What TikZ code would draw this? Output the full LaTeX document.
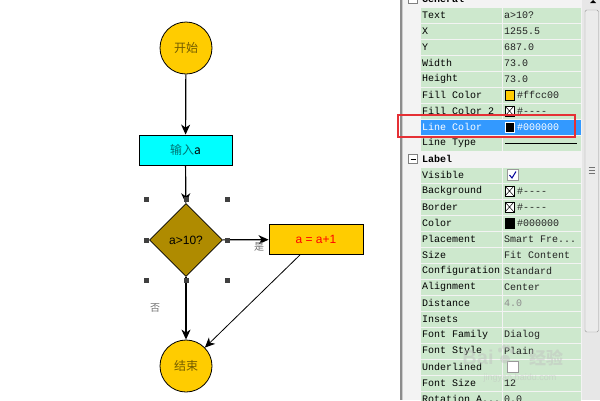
\documentclass[tikz,border=0pt]{standalone}
\usepackage{fontspec}
\setmainfont{Liberation Sans}
\setmonofont{Liberation Mono}
\newfontfamily\cjk{Noto Sans CJK SC}
\usetikzlibrary{shapes.geometric,arrows.meta}
\definecolor{gold}{HTML}{FFCC00}
\definecolor{dgold}{HTML}{AF8B00}
\definecolor{aqua}{HTML}{00FFFF}
\definecolor{cellg}{HTML}{CDE8CD}
\definecolor{selb}{HTML}{3399FF}
\definecolor{redbox}{HTML}{E53035}
\definecolor{panelbg}{HTML}{F3F3F3}
\definecolor{valtxt}{HTML}{222222}
\tikzset{
  term/.style={circle,draw=black,line width=0.8pt,fill=gold,minimum size=52pt,inner sep=0pt,
    font=\cjk\fontsize{12}{12}\selectfont,text=gold!45!black},
  procbox/.style={rectangle,draw=black,line width=0.8pt,minimum width=93pt,minimum height=30pt,inner sep=0pt,
    font=\fontsize{12}{12}\selectfont},
  decis/.style={diamond,aspect=1,draw=black,line width=0.8pt,fill=dgold,minimum width=73pt,minimum height=73pt,
    inner sep=0pt,font=\fontsize{12}{12}\selectfont},
  flow/.style={draw=black,line width=1.2pt,-{Stealth[length=10pt,width=9pt,inset=3pt]}},
  flowthin/.style={draw=black,line width=0.8pt,-{Stealth[length=10pt,width=9pt,inset=3pt]}},
  elabel/.style={font=\cjk\fontsize{10}{10}\selectfont,text=black!55,inner sep=0pt},
  pname/.style={anchor=west,font=\ttfamily\fontsize{10}{10}\selectfont,inner sep=0pt,text=black},
  pval/.style={anchor=west,font=\ttfamily\fontsize{10}{10}\selectfont,inner sep=0pt,text=valtxt},
  phead/.style={anchor=west,font=\ttfamily\bfseries\fontsize{10}{10}\selectfont,inner sep=0pt,text=black},
  swatch/.style={draw=black,line width=0.6pt},
}
\begin{document}
\begin{tikzpicture}[x=1pt,y=-1pt]
\useasboundingbox (0,0) rectangle (600,400);
\fill[white] (0,0) rectangle (600,400);

% ---------------- flowchart ----------------
\node[term] (start) at (186,48) {开始};
\node[procbox,fill=aqua,font=\cjk\fontsize{12}{12}\selectfont,text=aqua!45!black] (input) at (185.5,150) {输入\textcolor{black}{a}};
\node[decis] (cond) at (186,240) {a>10?};
\node[procbox,fill=gold,minimum width=94pt,text=red] (inc) at (316,239.5) {a = a+1};
\node[term] (end) at (186,366) {结束};

\draw[flow] (start) -- (input);
\draw[flow] (input) -- (cond);
\draw[flow] (cond) -- (inc);
\draw[flow] (cond) -- (end);
\draw[flowthin] (inc.south) ++(-16,0) coordinate (incout) -- (end);

\node[elabel] (yes) at (259,247) {是};
\node[elabel] (no) at (155,308) {否};

% selection handles
\foreach \hx/\hy in {146/199,186/199,227/199,146/240,227/240,146/280,186/280,227/280}
  \fill[black!75] (\hx-2.5,\hy-2.5) rectangle (\hx+2.5,\hy+2.5);

% ---------------- property panel ----------------
\fill[panelbg] (402,0) rectangle (600,400);
\fill[black!45] (400,0) rectangle (401.5,400);
\fill[black!20] (401.5,0) rectangle (403,400);

\foreach \k in {0,1,2,3,4,5,6,7,8,10,11,12,13,14,15,16,17,18,19,20,21,22,23,24}{
  \pgfmathsetmacro\yc{15+16*\k}
  \fill[cellg] (421,\yc-7.5) rectangle (501.5,\yc+7.5);
  \fill[cellg] (502.5,\yc-7.5) rectangle (581,\yc+7.5);
}
% selected row
\fill[selb] (421,119.5) rectangle (581,134.5);

% headers
\foreach \k/\t in {-1/General,9/Label}{
  \pgfmathsetmacro\yc{15+16*\k}
  \draw[black!50,fill=white] (408.5,\yc-4.5) rectangle (417.5,\yc+4.5);
  \draw[black] (410.5,\yc) -- (415.5,\yc);
  \node[phead] at (422,\yc) {\t};
}

% names
\foreach \k/\t in {0/Text,1/X,2/Y,3/Width,4/Height,5/Fill Color,6/Fill Color 2,8/Line Type,
  10/Visible,11/Background,12/Border,13/Color,14/Placement,15/Size,16/Configuration,17/Alignment,
  18/Distance,19/Insets,20/Font Family,21/Font Style,22/Underlined,23/Font Size}{
  \pgfmathsetmacro\yc{15+16*\k}
  \node[pname] at (422,\yc) {\t};
}
\node[pname] at (422,399) {Rotation A...};
\node[pname,text=white] at (422,127) {Line Color};

% plain values
\foreach \k/\t in {0/a>10?,1/1255.5,2/687.0,3/73.0,4/73.0,15/Fit Content,
  16/Standard,17/Center,20/Dialog,21/Plain,23/12,24/0.0}{
  \pgfmathsetmacro\yc{15+16*\k}
  \node[pval] at (504,\yc) {\t};
}
\node[pval] at (504,239) {Smart Fre...};
\node[pval,text=black!45] at (504,303) {4.0};

% swatch values
\draw[swatch,fill=gold] (505,90) rectangle (514,100);
\node[pval] at (517,95) {\#ffcc00};
\foreach \yc in {111,191,207}{
  \draw[swatch,fill=white] (505,\yc-5) rectangle (514,\yc+5);
  \draw[black,line width=0.5pt] (505,\yc-5) -- (514,\yc+5) (505,\yc+5) -- (514,\yc-5);
  \node[pval] at (517,\yc) {\#----};
}
\draw[white,line width=0.6pt,fill=black] (505,122) rectangle (514,132);
\node[pval,text=white] at (517,127) {\#000000};
\draw[swatch,fill=black] (505,218) rectangle (514,228);
\node[pval] at (517,223) {\#000000};
% line type
\draw[black,line width=0.8pt] (505,143) -- (577,143);
% checkboxes
\draw[black!40,fill=white] (507,169.5) rectangle (518,180.5);
\draw[blue!60!black,line width=1pt] (509.5,175) -- (512,178) -- (516,171.5);
\draw[black!40,fill=white] (507,361.5) rectangle (518,372.5);

% red highlight
\draw[redbox,line width=2pt] (398,115) rectangle (575,137);

% scrollbar
\fill[panelbg!95!black] (582,0) rectangle (600,400);
\draw[black!40,fill=black!8,rounded corners=1.5pt] (585,10) rectangle (598.5,332);
\foreach \gy in {167.5,170.5,173.5} \draw[black!55] (588.5,\gy) -- (594.5,\gy);
\fill[black] (590,3) -- (596,3) -- (593,0) -- cycle;

% watermark
\begin{scope}[opacity=0.45]
  \node[font=\fontsize{20}{20}\selectfont\bfseries,text=black!25,inner sep=0pt] (wm1) at (478,357) {Bai};
  \fill[black!25] (505,359) ellipse (5 and 4.5);
  \fill[black!25] (500,350) ellipse (2 and 2.5) (504,347) ellipse (2 and 2.5) (508,347.5) ellipse (2 and 2.5) (512,351) ellipse (2 and 2.5);
  \node[font=\cjk\fontsize{17}{17}\selectfont\bfseries,text=black!25,inner sep=0pt] (wm2) at (546,358) {经验};
  \node[font=\fontsize{9}{9}\selectfont,text=black!25,inner sep=0pt] (wm3) at (520,378) {jingyan.baidu.com};
\end{scope}
\end{tikzpicture}
\end{document}
